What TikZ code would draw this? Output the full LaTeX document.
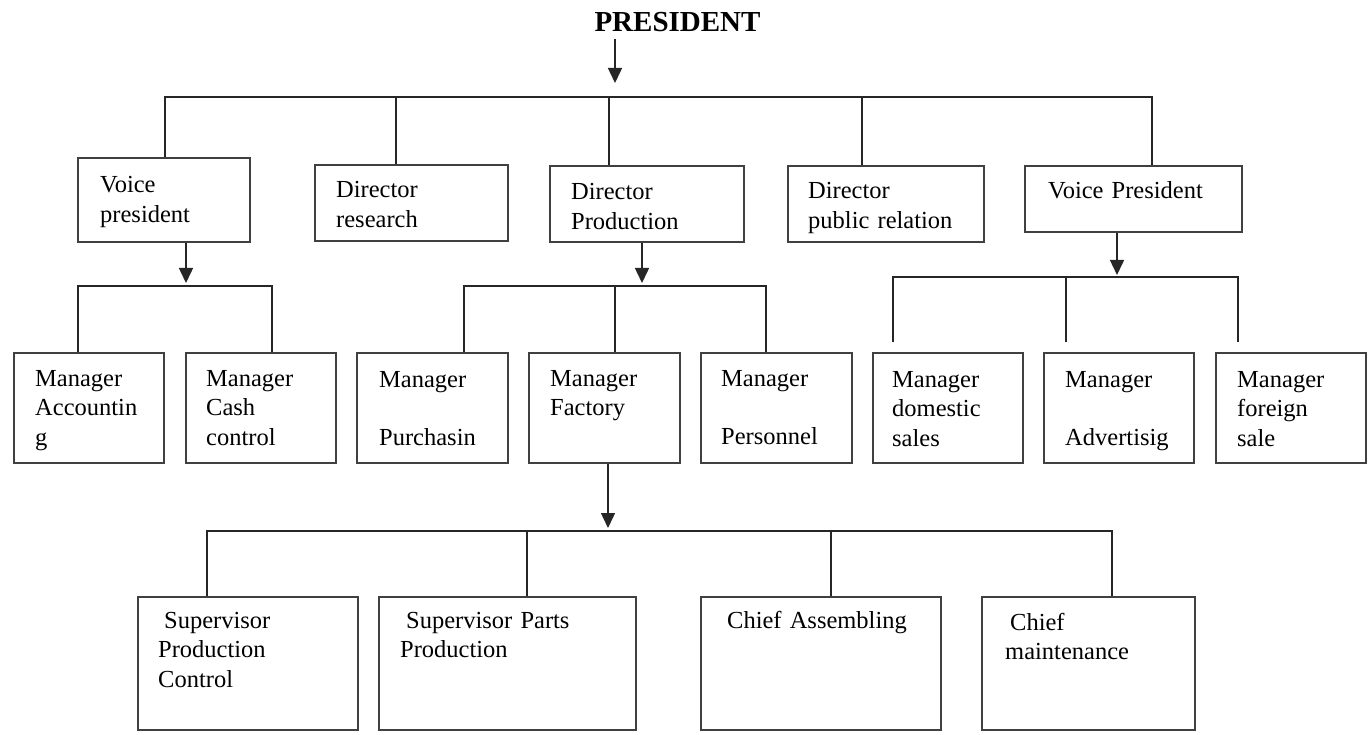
\documentclass[tikz,border=0pt]{standalone}
\usepackage{fontspec}
\setmainfont{Liberation Serif}
\usetikzlibrary{arrows.meta}

\begin{document}
\begin{tikzpicture}[x=1pt,y=-1pt,
  box/.style={draw=black!75,line width=1.5pt,inner sep=0,minimum width=#1},
  rowa/.style={box=#1,minimum height=76pt},
  rowb/.style={box=#1,minimum height=110pt},
  rowc/.style={box=#1,minimum height=133pt},
  lbl/.style={anchor=base west,inner sep=0,text width=220pt,align=left,
              font=\fontsize{24.5}{29.5}\selectfont},
  link/.style={draw=black!85,line width=1.5pt},
  arr/.style={link,-{Triangle[width=14pt,length=15pt]}}]
\useasboundingbox (0,0) rectangle (1370,735);

% ---- top ----
\node[anchor=base,inner sep=0,font=\fontsize{29}{34}\selectfont\bfseries] (pres) at (677.5,32) {PRESIDENT};

% ---- first level ----
\node[box=172pt,minimum height=84pt] (vp1) at (164,200) {};
\node[rowa=193pt] (dr)  at (411.5,203) {};
\node[rowa=194pt] (dp)  at (647,204) {};
\node[rowa=196pt] (dpr) at (886,204) {};
\node[box=217pt,minimum height=66pt] (vp2) at (1133.5,199) {};

\node[lbl] (tvp1) at (100,193) {Voice\\president};
\node[lbl] (tdr)  at (336,198) {Director\\research};
\node[lbl] (tdp)  at (571,200) {Director\\Production};
\node[lbl] (tdpr) at (808,199) {Director\\public relation};
\node[lbl] (tvp2) at (1048,199) {Voice President};

% ---- managers ----
\node[rowb=150pt] (ma)  at (89,408) {};
\node[rowb=150pt] (mc)  at (261,408) {};
\node[rowb=151pt] (mp)  at (432.5,408) {};
\node[rowb=151pt] (mf)  at (604.5,408) {};
\node[rowb=151pt] (mpe) at (776.5,408) {};
\node[rowb=150pt] (md)  at (948,408) {};
\node[rowb=150pt] (mad) at (1119,408) {};
\node[rowb=150pt] (mfo) at (1291,408) {};

\node[lbl] (tma)  at (35,386)   {Manager\\Accountin\\g};
\node[lbl] (tmc)  at (206,386)  {Manager\\Cash\\control};
\node[lbl] (tmp)  at (379,387)  {Manager\\[29pt]Purchasin};
\node[lbl] (tmf)  at (550,386)  {Manager\\Factory};
\node[lbl] (tmpe) at (721,386)  {Manager\\[29pt]Personnel};
\node[lbl] (tmd)  at (892,387)  {Manager\\domestic\\sales};
\node[lbl] (tmad) at (1065,387) {Manager\\[29pt]Advertisig};
\node[lbl] (tmfo) at (1237,387) {Manager\\foreign\\sale};

% ---- factory staff ----
\node[rowc=220pt] (spc) at (248,663.5) {};
\node[rowc=257pt] (spp) at (507.5,663.5) {};
\node[rowc=240pt] (ca)  at (821,663.5) {};
\node[rowc=213pt] (cm)  at (1088.5,663.5) {};

\node[lbl] (tspc) at (158,628)  {\hspace*{6pt}Supervisor\\Production\\Control};
\node[lbl] (tspp) at (400,628)  {\hspace*{6pt}Supervisor Parts\\Production};
\node[lbl] (tca)  at (727,628)  {Chief Assembling};
\node[lbl] (tcm)  at (1005,630) {\hspace*{5pt}Chief\\maintenance};

% ---- connectors: president ----
\coordinate (b0) at (615,97);
\draw[arr] ([yshift=-7pt]pres.south -| b0) -- ([yshift=14pt]b0);
\draw[link] (vp1.north -| 165,0) -- (165,97) -- (1152,97) -- (vp2.north -| 1152,0);
\draw[link] (dr.north -| 396,0)  -- (396,97);
\draw[link] (dp.north -| 609,0)  -- (609,97);
\draw[link] (dpr.north -| 862,0) -- (862,97);

% ---- connectors: first vice president ----
\coordinate (b1) at (186,286);
\draw[arr] (vp1.south -| b1) -- ([yshift=3pt]b1);
\draw[link] (ma.north -| 78,0) -- (78,286) -- (272,286) -- (mc.north -| 272,0);

% ---- connectors: director production ----
\coordinate (b2) at (642,286);
\draw[arr] (dp.south -| b2) -- ([yshift=3pt]b2);
\draw[link] (mp.north -| 464,0) -- (464,286) -- (766,286) -- (mpe.north -| 766,0);
\draw[link] (mf.north -| 615,0) -- (615,286);

% ---- connectors: second vice president ----
\coordinate (b3) at (1117,277);
\draw[arr] (vp2.south -| b3) -- ([yshift=2pt]b3);
\draw[link] ([yshift=10pt]md.north -| 893,0) -- (893,277) -- (1238,277) -- ([yshift=10pt]mfo.north -| 1238,0);
\draw[link] ([yshift=10pt]mad.north -| 1066,0) -- (1066,277);

% ---- connectors: manager factory ----
\coordinate (b4) at (608,531);
\draw[arr] (mf.south -| b4) -- ([yshift=3pt]b4);
\draw[link] (spc.north -| 207,0) -- (207,531) -- (1112,531) -- (cm.north -| 1112,0);
\draw[link] (spp.north -| 527,0) -- (527,531);
\draw[link] (ca.north -| 831,0)  -- (831,531);
\end{tikzpicture}
\end{document}
